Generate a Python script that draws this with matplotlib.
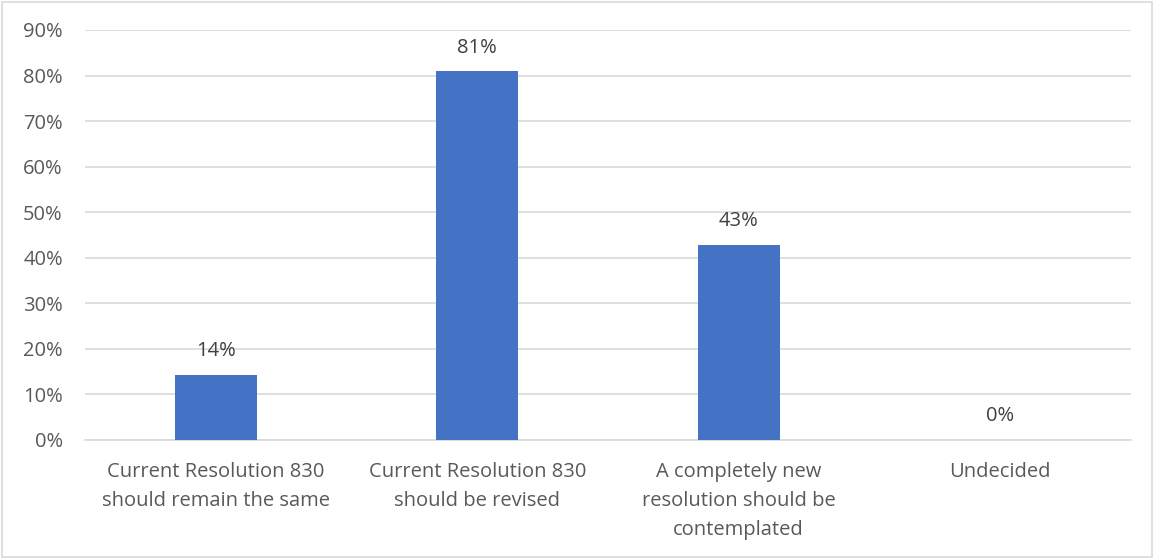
import matplotlib
matplotlib.use("Agg")
import matplotlib.pyplot as plt
from matplotlib.ticker import PercentFormatter
from matplotlib.patches import Rectangle

categories = ["Current Resolution 830\nshould remain the same",
              "Current Resolution 830\nshould be revised",
              "A completely new\nresolution should be\ncontemplated",
              "Undecided"]
values = [0.143, 0.809, 0.429, 0.0]
value_labels = ["14%", "81%", "43%", "0%"]
yticks = [0, 0.1, 0.2, 0.3, 0.4, 0.5, 0.6, 0.7, 0.8, 0.9]

plt.rcParams['font.family'] = ['Open Sans', 'DejaVu Sans']
txt = '#595959'
grid = '#d9d9d9'
fs = 14.5

fig = plt.figure(figsize=(11.54, 5.58), dpi=100)
ax = fig.add_axes([0.0737, 0.2115, 0.9063, 0.7348])

x = list(range(len(categories)))
ax.bar(x, values, width=0.313, color='#4472c4', zorder=3)
for xi, v, lab in zip(x, values, value_labels):
    ax.text(xi, v + 0.03, lab, ha='center', va='bottom', fontsize=fs, color='#404040')

ax.set_xlim(-0.5, 3.5)
ax.set_ylim(0, 0.9)
ax.set_yticks(yticks)
ax.yaxis.set_major_formatter(PercentFormatter(1.0, decimals=0))
ax.set_xticks(x)
ax.set_xticklabels(categories, fontsize=fs, color=txt, linespacing=1.58)
ax.tick_params(axis='y', labelsize=fs, labelcolor=txt, length=0, pad=16)
ax.tick_params(axis='x', length=0, pad=16)
ax.grid(axis='y', color=grid, linewidth=1.2, zorder=0)
for s in ['top', 'right', 'left']:
    ax.spines[s].set_visible(False)
ax.spines['bottom'].set_color(grid)
ax.spines['bottom'].set_linewidth(1.2)

fig.patches.append(Rectangle((0.002, 0.002), 0.996, 0.994, transform=fig.transFigure,
                             fill=False, edgecolor='#d9d9d9', linewidth=1.2))

fig.savefig("out.png", dpi=100)
